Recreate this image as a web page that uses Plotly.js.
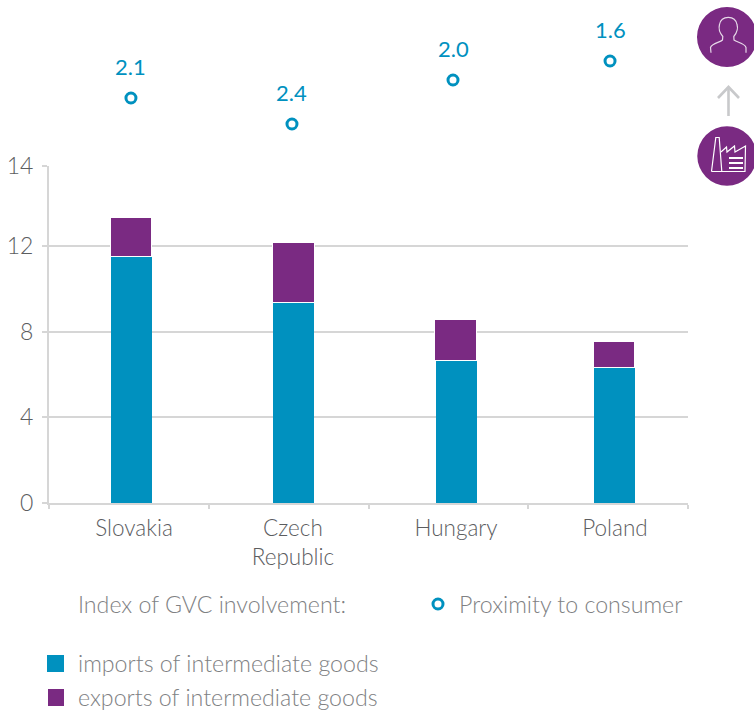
<!DOCTYPE html>
<html><head><meta charset="utf-8">
<script src="https://cdn.plot.ly/plotly-3.0.1.min.js"></script>
<style>html,body{margin:0;padding:0;background:#fff}</style></head>
<body><div id="chart" style="width:754px;height:710px"></div>
<script>
const countries = ["Slovakia", "Czech<br>Republic", "Hungary", "Poland"];
const imports = [11.5, 9.37, 6.65, 6.33];
const exportsGoods = [1.84, 2.77, 1.89, 1.2];
const proximity = ["2.1", "2.4", "2.0", "1.6"];
const proximityHeight = [68, 42, 86, 105];
const barPos = [0.516, 1.533, 2.548, 3.54];
const labelPos = [0.532, 1.527, 2.548, 3.543];
const markerPos = [0.513, 1.521, 2.529, 3.512];
const yTickVals = [0, 4, 8, 12, 15.75];
const yTickText = ["0", "4", "8", "12", "14"];
const W = 754, H = 710;
const BLUE = "#0091bf", PURPLE = "#7a2a82", GRID = "#d6d6d6", DARK = "#5c5d5f", LIGHT = "#808183";
const FONT = "Lato, 'Open Sans', sans-serif";
const px = x => (x / W).toFixed(5);
const py = y => (1 - y / H).toFixed(5);
const P = (x, y) => px(x) + "," + py(y);
const path = (d, extra) => Object.assign({type:"path", xref:"paper", yref:"paper", path:d, layer:"above"}, extra);
const line = (pts, color, w) => path("M" + pts.map(p => P(p[0], p[1])).join("L"), {line:{color:color, width:w}});
const curve = (d, color, w) => path(d, {line:{color:color, width:w}});
const circle = (cx, cy, r, fill, lineC, lw) => ({type:"circle", xref:"paper", yref:"paper", layer:"above",
  x0:px(cx-r), x1:px(cx+r), y0:py(cy+r), y1:py(cy-r), fillcolor:fill, line:{color:lineC, width:lw}});
const rect = (x0, y0, x1, y1, fill) => ({type:"rect", xref:"paper", yref:"paper", layer:"above",
  x0:px(x0), x1:px(x1), y0:py(y1), y1:py(y0), fillcolor:fill, line:{width:0}});
const txt = (x, y, t, color) => ({xref:"paper", yref:"paper", x:px(x), y:py(y), xanchor:"left", yanchor:"middle",
  showarrow:false, text:t, font:{family:FONT, size:23.2, weight:300, color:color}});

const personPath = "M" + P(711,52.7) + "L" + P(710.5,47.5) + "C" + P(712,43) + " " + P(720,42.5) + " " + P(722.5,40) +
  "L" + P(722.8,36.5) + "C" + P(719,32) + " " + P(718.8,27) + " " + P(719.5,24.5) +
  "C" + P(720.5,19) + " " + P(724.5,17.3) + " " + P(728.3,17.3) + "C" + P(732,17.3) + " " + P(736,19) + " " + P(737,24.5) +
  "C" + P(737.8,27) + " " + P(737.5,32) + " " + P(733.8,36.5) + "L" + P(734,40) +
  "C" + P(737,42.5) + " " + P(744.5,43) + " " + P(746,47.5) + "L" + P(746,52.7);

const traces = [
  {type:"bar", x:barPos, y:imports, width:0.257, marker:{color:BLUE}, hoverinfo:"y", name:"imports of intermediate goods"},
  {type:"bar", x:barPos, y:exportsGoods, width:0.26, marker:{color:PURPLE, line:{color:"#ffffff", width:1}}, hoverinfo:"y", name:"exports of intermediate goods"},
  {type:"scatter", mode:"markers", x:markerPos, y:proximityHeight, yaxis:"y2", name:"Proximity to consumer",
   marker:{symbol:"circle-open", size:10, color:BLUE, line:{width:3, color:BLUE}}, text:proximity, hoverinfo:"text"}
];

const layout = {
  width:W, height:H, margin:{l:0,r:0,t:0,b:0}, paper_bgcolor:"#fff", plot_bgcolor:"#fff",
  showlegend:false, barmode:"stack", bargap:0,
  font:{family:FONT, color:DARK, size:22},
  xaxis:{domain:[49/W, 688/W], range:[0,4], tickmode:"array", tickvals:labelPos, ticktext:countries,
    ticks:"", showgrid:false, zeroline:false, showline:true, linecolor:GRID, linewidth:2, ticklabelstandoff:4,
    tickfont:{family:FONT, size:22.5, weight:300, color:DARK},
    minor:{tickmode:"array", tickvals:[0,1,2,3,4], ticks:"outside", ticklen:4, tickwidth:2, tickcolor:GRID, showgrid:false}},
  yaxis:{domain:[1-503/H, 1-166/H], range:[0,15.75], tickmode:"array", tickvals:yTickVals, ticktext:yTickText,
    ticks:"outside", ticklen:5, tickwidth:2, tickcolor:GRID, showgrid:true, gridcolor:GRID, gridwidth:2,
    zeroline:false, showline:true, linecolor:GRID, linewidth:2, ticklabelstandoff:4,
    tickfont:{family:FONT, size:23, weight:300, color:DARK}},
  yaxis2:{domain:[1-166/H, 1], range:[0,166], visible:false, anchor:"x"},
  annotations: proximity.map((t,i) => ({xref:"x", yref:"y2", x:markerPos[i], y:proximityHeight[i], text:t, showarrow:false,
      yshift:32, font:{family:FONT, size:22, weight:400, color:BLUE}})).concat([
    txt(76, 604, "Index of GVC involvement:", LIGHT),
    txt(457, 604, "Proximity to consumer", LIGHT),
    txt(76, 663, "imports of intermediate goods", LIGHT),
    txt(76, 697, "exports of intermediate goods", LIGHT)
  ]),
  shapes:[
    circle(438, 604, 5, "rgba(0,0,0,0)", BLUE, 3),
    rect(47, 655, 64, 672, BLUE),
    rect(48, 689, 64, 706, PURPLE),
    circle(727, 37, 30, PURPLE, PURPLE, 0),
    circle(727, 156, 29.7, PURPLE, PURPLE, 0),
    curve(personPath, "#e6d8e8", 1.2),
    line([[728.5,116],[728.5,87.5]], "#c8c9cb", 2.6),
    line([[718,98],[728.5,87],[739,98]], "#c8c9cb", 2.6),
    line([[711.5,171.5],[715.8,137.5],[719.2,137.5],[721.8,171.5]], "#ffffff", 1.2),
    line([[711.5,171.5],[745,171.5],[745.5,146],[735,152],[734.5,146],[727,152],[726.5,147],[721,152]], "#ffffff", 1.2),
    line([[729,158],[743,158]], "#ffffff", 2),
    line([[729,163],[743,163]], "#ffffff", 2),
    line([[729,168],[743,168]], "#ffffff", 2)
  ]
};
Plotly.newPlot("chart", traces, layout, {displayModeBar:false, responsive:false});
</script></body></html>
